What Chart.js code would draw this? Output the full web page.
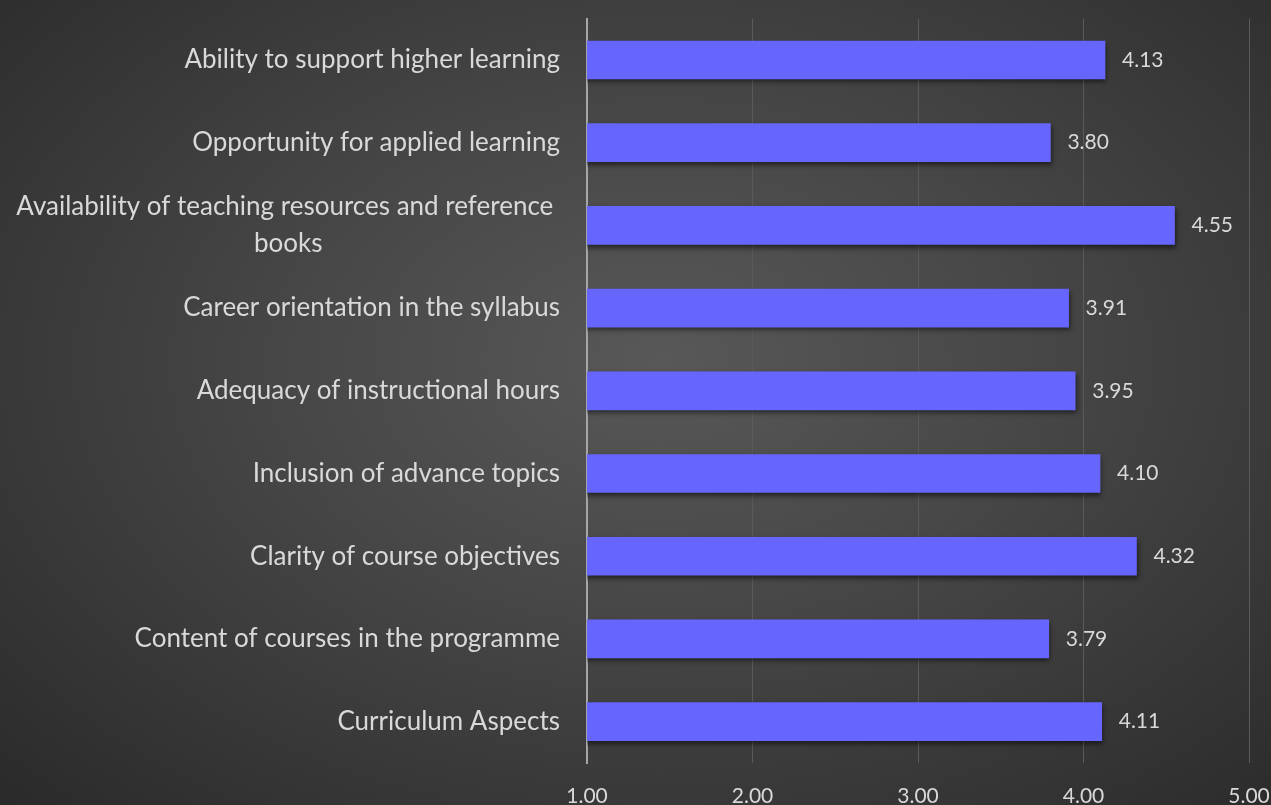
<!DOCTYPE html>
<html>
<head>
<meta charset="utf-8">
<script src="https://cdn.jsdelivr.net/npm/chart.js@4.4.0/dist/chart.umd.min.js"></script>
<style>
  html, body { margin: 0; padding: 0; overflow: hidden; }
  body {
    width: 1271px; height: 805px;
    background: radial-gradient(ellipse farthest-corner at 52% 45%, #585858 0%, #474747 40%, #2a2a2a 100%);
  }
  canvas { display: block; }
</style>
</head>
<body>
<canvas id="chart" width="1271" height="805"></canvas>
<script>
// ===== DATA =====
const categories = [
  ["Ability to support higher learning"],
  ["Opportunity for applied learning"],
  ["Availability of teaching resources and reference ", "books"],
  ["Career orientation in the syllabus"],
  ["Adequacy of instructional hours"],
  ["Inclusion of advance topics"],
  ["Clarity of course objectives"],
  ["Content of courses in the programme"],
  ["Curriculum Aspects"]
];
const scores = [4.13, 3.80, 4.55, 3.91, 3.95, 4.10, 4.32, 3.79, 4.11];
const xTicks = [1, 2, 3, 4, 5];

const FONT = "Lato";
const LABEL_SIZE = 26;
const VALUE_SIZE = 21;
const TEXT_COLOR = "#d9d9d9";

// draw category labels ourselves so multi-line labels are centred like the original
const categoryLabels = {
  id: "categoryLabels",
  afterDraw(chart) {
    const y = chart.scales.y;
    const ctx = chart.ctx;
    const right = chart.chartArea.left - 27;
    const lineH = 37;
    ctx.save();
    ctx.font = LABEL_SIZE + "px " + FONT;
    ctx.fillStyle = TEXT_COLOR;
    ctx.textAlign = "center";
    ctx.textBaseline = "middle";
    categories.forEach((lines, i) => {
      const cy = y.getPixelForValue(i);
      const w = Math.max(...lines.map(l => ctx.measureText(l).width));
      const cx = right - w / 2;
      lines.forEach((l, j) => {
        ctx.fillText(l, cx, cy + (j - (lines.length - 1) / 2) * lineH);
      });
    });
    ctx.restore();
  }
};

// value labels at the end of each bar
const valueLabels = {
  id: "valueLabels",
  afterDatasetsDraw(chart) {
    const ctx = chart.ctx;
    const meta = chart.getDatasetMeta(0);
    ctx.save();
    ctx.font = VALUE_SIZE + "px " + FONT;
    ctx.fillStyle = TEXT_COLOR;
    ctx.textAlign = "left";
    ctx.textBaseline = "middle";
    meta.data.forEach((bar, i) => {
      ctx.fillText(scores[i].toFixed(2), bar.x + 17, bar.y);
    });
    ctx.restore();
  }
};

// soft shadow under the bars
const barShadow = {
  id: "barShadow",
  beforeDatasetDraw(chart) {
    const ctx = chart.ctx;
    ctx.save();
    ctx.shadowColor = "rgba(0,0,0,0.55)";
    ctx.shadowBlur = 5;
    ctx.shadowOffsetX = 1;
    ctx.shadowOffsetY = 3;
  },
  afterDatasetDraw(chart) {
    chart.ctx.restore();
  }
};

new Chart(document.getElementById("chart").getContext("2d"), {
  type: "bar",
  data: {
    labels: categories,
    datasets: [{
      data: scores,
      backgroundColor: "#6666ff",
      borderWidth: 0,
      barThickness: 38
    }]
  },
  options: {
    indexAxis: "y",
    responsive: false,
    animation: false,
    layout: { padding: { top: 12, left: 0, right: 22, bottom: 0 } },
    plugins: {
      legend: { display: false },
      tooltip: { enabled: false }
    },
    scales: {
      x: {
        min: 1,
        max: 5,
        afterBuildTicks: scale => { scale.ticks = xTicks.map(v => ({ value: v })); },
        grid: { color: "#5a5a5a", lineWidth: 1, drawTicks: false },
        border: { display: false },
        ticks: {
          color: TEXT_COLOR,
          font: { family: FONT, size: VALUE_SIZE },
          padding: 21,
          callback: v => Number(v).toFixed(2)
        },
        afterFit: scale => { scale.height = 42; scale.paddingRight = 0; }
      },
      y: {
        grid: { display: false, drawTicks: false },
        border: { display: true, color: "#a6a6a6", width: 2 },
        ticks: {
          color: "transparent",
          font: { family: FONT, size: LABEL_SIZE }
        },
        afterFit: scale => { scale.width = 587; }
      }
    }
  },
  plugins: [barShadow, valueLabels, categoryLabels]
});
</script>
</body>
</html>
